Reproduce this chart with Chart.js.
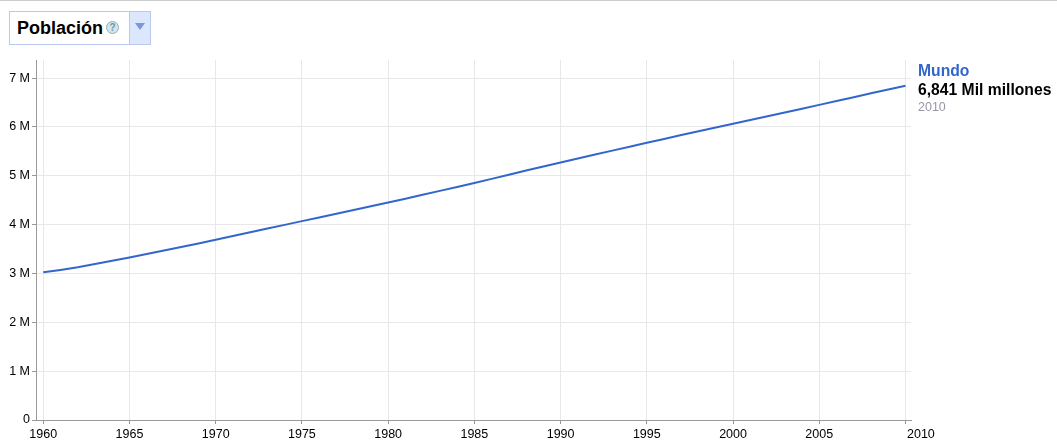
<!DOCTYPE html>
<html lang="es">
<head>
<meta charset="utf-8">
<title>Población</title>
<script src="https://cdn.jsdelivr.net/npm/chart.js@4"></script>
<style>
html,body{margin:0;padding:0;background:#fff;overflow:hidden;width:1057px;height:445px;font-family:"Liberation Sans",Arial,sans-serif}
#top{position:absolute;left:0;top:0;width:1057px;height:1px;background:#ccc}
#chart{position:absolute;left:0;top:0}
#sel{position:absolute;left:9px;top:11px;width:119px;height:32px;border:1px solid #b9c8ec;background:#fff}
#sel b{position:absolute;left:7px;top:6px;font-size:18px;line-height:20px;color:#000}
#help{position:absolute;left:96px;top:9px;width:11px;height:11px;border:1px solid #8fb0b8;border-radius:50%;background:#d5e6ea;color:#6b98a4;font:bold 10px/11px "Liberation Sans",Arial,sans-serif;text-align:center}
#btn{position:absolute;left:129px;top:11px;width:20px;height:32px;border:1px solid #b9c8ec;background:#dbe7fc}
#btn i{position:absolute;left:5px;top:11px;width:0;height:0;border-left:5px solid transparent;border-right:5px solid transparent;border-top:7px solid #8096d6}
.lg{position:absolute;left:918px;white-space:nowrap}
#l1{top:62px;font-size:15.7px;line-height:18px;font-weight:bold;color:#3366cc}
#l2{top:81px;font-size:15.7px;line-height:18px;font-weight:bold;color:#000}
#l3{top:100px;font-size:12.5px;line-height:15px;color:#9a94a8}
</style>
</head>
<body>
<canvas id="chart" width="1057" height="445"></canvas>
<div id="top"></div>
<div id="sel"><b>Población</b><span id="help">?</span></div>
<div id="btn"><i></i></div>
<div class="lg" id="l1">Mundo</div>
<div class="lg" id="l2">6,841 Mil millones</div>
<div class="lg" id="l3">2010</div>
<script>
const years = [1960,1961,1962,1963,1964,1965,1966,1967,1968,1969,1970,1971,1972,1973,1974,1975,1976,1977,1978,1979,1980,1981,1982,1983,1984,1985,1986,1987,1988,1989,1990,1991,1992,1993,1994,1995,1996,1997,1998,1999,2000,2001,2002,2003,2004,2005,2006,2007,2008,2009,2010];
const population = [3.026,3.072,3.125,3.193,3.260,3.328,3.398,3.468,3.541,3.615,3.691,3.767,3.843,3.919,3.995,4.071,4.147,4.223,4.299,4.375,4.451,4.530,4.611,4.691,4.771,4.853,4.936,5.021,5.107,5.191,5.273,5.354,5.434,5.515,5.595,5.674,5.754,5.833,5.911,5.989,6.066,6.143,6.220,6.296,6.373,6.451,6.529,6.608,6.688,6.764,6.841];
const xTicks = [1960,1965,1970,1975,1980,1985,1990,1995,2000,2005,2010];
const yTicks = [0,1,2,3,4,5,6,7];
const yLabels = ['0','1 M','2 M','3 M','4 M','5 M','6 M','7 M'];

const font = {family:'"Liberation Sans", Arial, sans-serif', size:12.5};
const lastLabelLeft = {
  id:'lastLabelLeft',
  beforeDraw(chart){
    const items = chart.scales.x.getLabelItems();
    const last = items[items.length-1];
    last.options.textAlign = 'left';
    last.options.translation = [last.options.translation[0]+1.5, last.options.translation[1]];
  }
};
new Chart(document.getElementById('chart'),{
  type:'line',
  data:{datasets:[{
    label:'Mundo',
    data:years.map((y,i)=>({x:y,y:population[i]})),
    borderColor:'#3366cc',borderWidth:2,pointRadius:0,tension:0,fill:false
  }]},
  plugins:[lastLabelLeft],
  options:{
    responsive:false,animation:false,devicePixelRatio:1,
    layout:{padding:{left:0,right:146,top:60,bottom:0}},
    plugins:{legend:{display:false},tooltip:{enabled:false},title:{display:false}},
    scales:{
      x:{
        type:'linear',min:1959.58,max:2010.32,
        afterBuildTicks(s){s.ticks=xTicks.map(v=>({value:v}));},
        afterFit(s){s.height=25;},
        grid:{color:'#e8e8e8',tickColor:'#999',tickLength:4,lineWidth:1},
        border:{color:'#999',width:1},
        ticks:{color:'#000',font,padding:3,maxRotation:0,autoSkip:false,callback:v=>String(v)}
      },
      y:{
        min:0,max:7.37,
        afterBuildTicks(s){s.ticks=yTicks.map(v=>({value:v}));},
        afterFit(s){s.width=36;},
        grid:{color:'#e8e8e8',tickColor:'#999',tickLength:4,lineWidth:1},
        border:{color:'#999',width:1},
        ticks:{color:'#000',font,padding:2,autoSkip:false,callback:v=>yLabels[yTicks.indexOf(v)]}
      }
    }
  }
});
</script>
</body>
</html>
